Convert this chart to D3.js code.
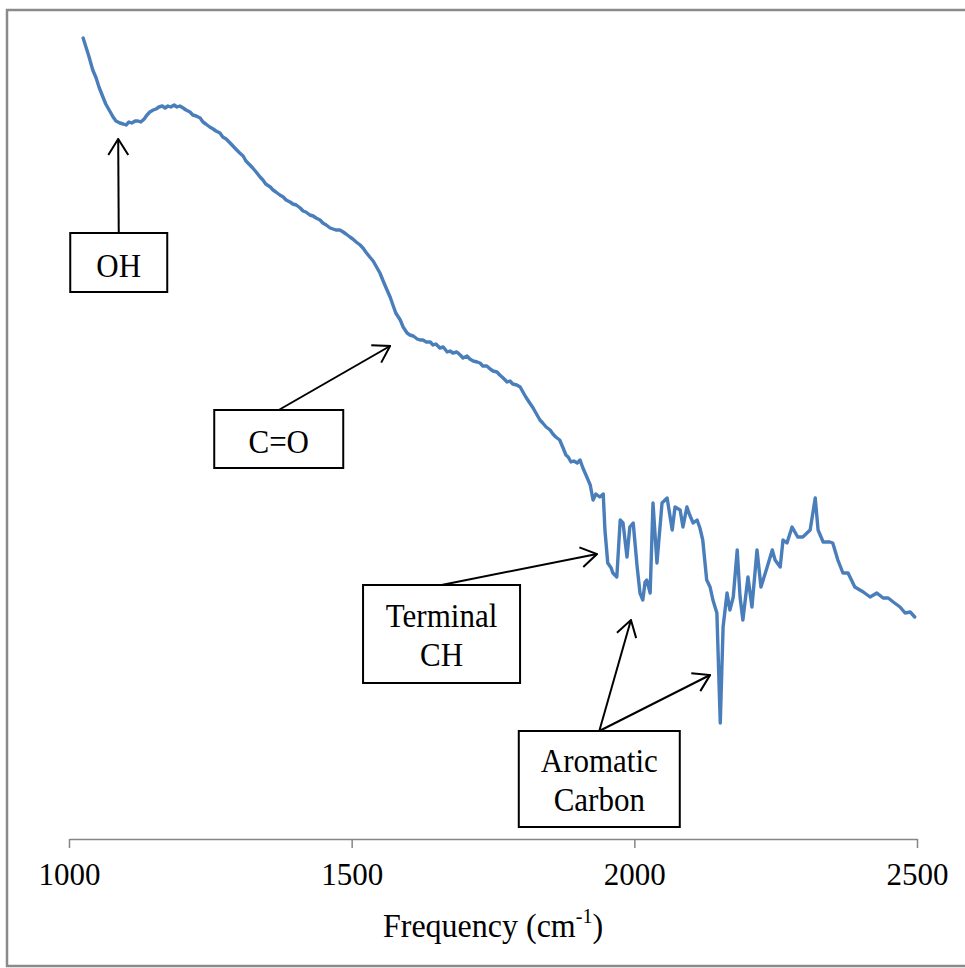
<!DOCTYPE html>
<html>
<head>
<meta charset="utf-8">
<script src="https://cdn.jsdelivr.net/npm/d3@7"></script>
<style>
  html, body { margin: 0; padding: 0; background: #ffffff; }
  svg { display: block; }
  text { font-family: "Liberation Serif", "Times New Roman", serif; fill: #000; }
</style>
</head>
<body>
<svg id="chart" width="965" height="968"></svg>
<script>
// FTIR spectrum: wavenumber (cm-1) and relative transmittance
const wavenumber = [
  1025,1030,1035,1042,1048,1053,1060,1065,1073,1078,1083,1090,1096,1101,1106,1111,1117,1122,1127,1133,
  1138,1143,1149,1154,1159,1165,1170,1175,1180,1186,1191,1196,1202,1207,1214,1219,1225,1232,1237,1242,
  1249,1255,1260,1267,1272,1278,1285,1290,1295,1302,1308,1313,1320,1325,1331,1338,1343,1348,1356,1361,
  1366,1373,1379,1384,1391,1396,1402,1409,1414,1419,1426,1432,1437,1444,1449,1455,1462,1467,1472,1479,
  1485,1490,1497,1502,1508,1515,1520,1525,1532,1538,1543,1550,1555,1561,1568,1573,1578,1586,1591,1598,
  1603,1609,1616,1621,1626,1632,1639,1644,1649,1656,1662,1669,1674,1679,1686,1692,1697,1704,1709,1715,
  1722,1727,1732,1739,1745,1750,1757,1762,1768,1775,1780,1785,1792,1798,1803,1808,1815,1821,1826,1833,
  1838,1844,1851,1856,1861,1868,1874,1879,1883,1888,1893,1899,1904,1909,1916,1922,1927,1932,1939,1945,
  1948,1953,1959,1962,1969,1975,1980,1987,1992,1998,2005,2010,2015,2019,2022,2028,2033,2040,2049,2058,
  2067,2072,2081,2086,2093,2098,2104,2111,2116,2121,2128,2134,2139,2146,2152,2157,2164,2169,2175,2182,
  2187,2192,2201,2208,2217,2224,2235,2244,2249,2258,2263,2270,2279,2289,2298,2311,2320,2325,2334,2346,
  2351,2360,2369,2378,2390,2405,2417,2429,2440,2449,2458,2470,2479,2488,2496
];
const transmittance = [
  80.1,79.2,78.3,76.9,76.1,75.2,74.2,73.5,72.7,72.2,71.8,71.6,71.5,71.4,71.7,71.6,71.8,71.8,71.7,72.0,
  72.4,72.7,72.9,73.0,73.2,73.3,73.1,73.3,73.2,73.4,73.2,73.3,73.1,72.9,72.7,72.4,72.3,72.1,71.7,71.5,
  71.2,71.0,70.8,70.6,70.2,70.0,69.6,69.3,69.0,68.6,68.3,67.8,67.4,67.1,66.7,66.2,65.9,65.5,65.2,64.9,
  64.7,64.4,64.2,63.9,63.7,63.5,63.4,63.1,62.8,62.7,62.4,62.3,62.1,61.9,61.6,61.4,61.1,61.0,60.9,60.9,
  60.7,60.5,60.2,60.0,59.7,59.4,59.1,58.7,58.2,57.8,57.3,56.6,55.9,55.1,54.2,53.4,52.6,51.9,51.2,50.6,
  50.4,50.3,50.0,49.9,49.9,49.7,49.7,49.4,49.5,49.1,49.2,48.7,48.8,48.6,48.7,48.4,48.1,48.3,48.0,47.8,
  47.7,47.6,47.3,47.3,47.0,46.8,46.7,46.4,46.1,45.7,45.8,45.5,45.4,45.2,44.7,44.2,43.6,43.1,42.6,41.9,
  41.6,41.2,40.9,40.5,40.2,39.9,39.1,38.4,38.2,37.7,37.8,37.6,37.9,37.1,36.2,35.4,33.9,34.5,34.2,34.5,
  30.9,27.6,27.1,26.6,26.2,31.9,31.6,28.2,31.2,31.6,27.2,24.6,23.9,25.7,25.9,24.6,33.6,27.6,33.6,34.1,
  30.9,33.2,32.9,31.2,33.2,32.4,31.6,31.9,31.1,29.9,25.9,25.2,23.9,22.6,11.6,21.2,24.6,22.9,24.2,28.9,
  24.2,21.9,26.2,23.2,28.9,25.2,27.2,28.9,27.9,27.2,29.9,29.6,31.2,30.2,30.2,30.9,34.1,30.9,29.7,29.7,
  29.6,27.9,26.6,26.6,25.2,24.7,24.2,24.6,24.1,24.1,23.7,23.2,22.6,22.7,22.2
];

// Axis ticks
const tickValues = [1000, 1500, 2000, 2500];
const axisTitle = "Frequency (cm";
const axisTitleSup = "-1";

// Band assignments: label lines, arrow targets [wavenumber, transmittance], box centre
const bandLabels = [
  ["OH"], ["C=O"], ["Terminal", "CH"], ["Aromatic", "Carbon"]
];
const bandTargets = [
  [[1087, 70.0]],
  [[1568, 49.3]],
  [[1934, 28.5]],
  [[1994, 21.9], [2134, 16.4]]
];
const bandBoxCentres = [
  [1088, 57.65], [1371, 40.0], [1659, 20.5], [1938, 6.0]
];

const svg = d3.select("#chart");

// page frame (right edge runs off the page)
svg.append("rect")
  .attr("x", 7).attr("y", 10)
  .attr("width", 990).attr("height", 956)
  .attr("fill", "#ffffff")
  .attr("stroke", "#8a8a8a")
  .attr("stroke-width", 2.5);

const x = d3.scaleLinear().domain([1000, 2500]).range([69, 917]);
const y = d3.scaleLinear().domain([0, 80]).range([839, 39]);

// slightly tall serif lettering
const stretch = (sel, tx, ty) => sel.attr("transform", `translate(${tx},${ty}) scale(1,1.06)`);

// spectrum line
const pts = wavenumber.map((w, i) => [w, transmittance[i]]);
svg.append("path")
  .datum(pts)
  .attr("fill", "none")
  .attr("stroke", "#4A7EBB")
  .attr("stroke-width", 3.4)
  .attr("stroke-linejoin", "round")
  .attr("stroke-linecap", "round")
  .attr("d", d3.line().x(d => x(d[0])).y(d => y(d[1])));

// x axis
const axisG = svg.append("g")
  .attr("transform", `translate(0,${y(0)})`)
  .call(d3.axisBottom(x)
    .tickValues(tickValues)
    .tickFormat(d3.format("d"))
    .tickSizeInner(9)
    .tickSizeOuter(0)
    .tickPadding(15));
axisG.select(".domain").attr("stroke", "#868686").attr("stroke-width", 1.5);
axisG.selectAll(".tick line").attr("stroke", "#868686").attr("stroke-width", 1.5);
axisG.selectAll(".tick text")
  .attr("font-family", "Liberation Serif, Times New Roman, serif")
  .attr("font-size", 31)
  .attr("fill", "#000");

// axis title
const title = svg.append("text")
  .attr("text-anchor", "middle")
  .attr("font-size", 32);
stretch(title, (x(1000) + x(2500)) / 2, 937);
title.append("tspan").text(axisTitle);
title.append("tspan").attr("font-size", 20).attr("dy", -13).text(axisTitleSup);
title.append("tspan").attr("dy", 13).text(")");

// arrow head
svg.append("defs").append("marker")
  .attr("id", "head")
  .attr("markerUnits", "userSpaceOnUse")
  .attr("viewBox", "0 0 18 22")
  .attr("refX", 17).attr("refY", 11)
  .attr("markerWidth", 18).attr("markerHeight", 22)
  .attr("orient", "auto")
  .append("path")
  .attr("d", "M1,1 L17,11 L1,21")
  .attr("fill", "none")
  .attr("stroke", "#000")
  .attr("stroke-width", 2);

// band annotation boxes and arrows
const boxSizes = [[97, 59], [129, 58], [157, 98], [161, 96]];
bandLabels.forEach((lines, i) => {
  const cx = x(bandBoxCentres[i][0]);
  const cy = y(bandBoxCentres[i][1]);
  const [w, h] = boxSizes[i];
  const top = cy - h / 2;

  bandTargets[i].forEach(t => {
    svg.append("line")
      .attr("x1", cx).attr("y1", top)
      .attr("x2", x(t[0])).attr("y2", y(t[1]))
      .attr("stroke", "#000")
      .attr("stroke-width", 2)
      .attr("marker-end", "url(#head)");
  });

  svg.append("rect")
    .attr("x", cx - w / 2).attr("y", top)
    .attr("width", w).attr("height", h)
    .attr("fill", "#fff")
    .attr("stroke", "#000")
    .attr("stroke-width", 2);

  const offsets = lines.length === 1 ? [4] : [-17, 22];
  lines.forEach((s, j) => {
    const t = svg.append("text")
      .attr("text-anchor", "middle")
      .attr("font-size", 31)
      .text(s);
    stretch(t, cx, cy + offsets[j] + 10);
  });
});
</script>
</body>
</html>
